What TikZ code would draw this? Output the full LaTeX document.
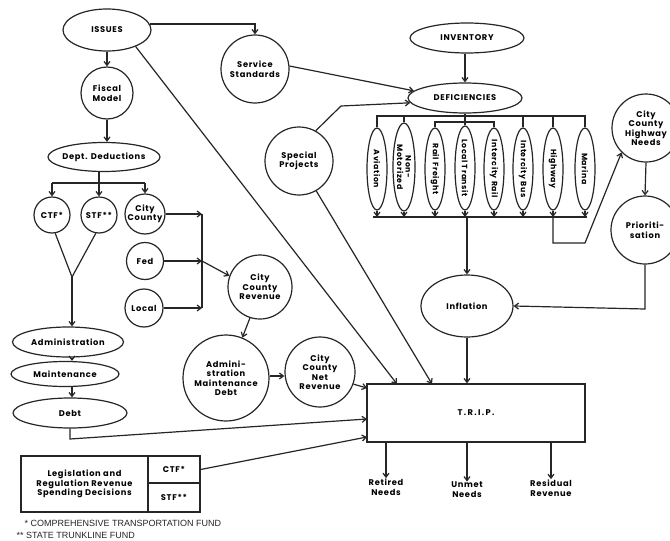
\documentclass[tikz,border=0pt]{standalone}
\usepackage{fontspec}
\setmainfont{Poppins}
\newfontfamily\lblfont[LetterSpace=8]{Poppins}
\newfontfamily\notefont{Liberation Sans}
\usetikzlibrary{shapes.geometric,arrows.meta}

\begin{document}
\begin{tikzpicture}[x=1pt,y=-1pt,
  line width=1.2pt,
  every label/.style={align=center, inner sep=0pt, text=black,
    font=\lblfont\bfseries\fontsize{8.3}{9.5}\selectfont},
  circ/.style={circle, draw=black!85, inner sep=0pt},
  ell/.style={ellipse, draw=black!85, inner sep=0pt},
  mode/.style={ellipse, draw=black!85, inner sep=0pt, minimum width=20, minimum height=82},
  vlbl/.style={rotate=-90, font=\lblfont\bfseries\fontsize{7.8}{8.5}\selectfont},
  cell/.style={rectangle, draw=black!85, inner sep=0pt},
  txt/.style={align=center, inner sep=0pt, text=black,
    font=\lblfont\bfseries\fontsize{8.3}{9.8}\selectfont},
  note/.style={anchor=west, inner sep=0pt, text=black!85,
    font=\notefont\fontsize{9}{10}\selectfont},
  arr/.style={draw=black!85, -{Straight Barb[length=4pt,width=6pt]}},
  ln/.style={draw=black!85},
]
\fill[white] (0,0) rectangle (670,541);
\useasboundingbox (0,0) rectangle (670,541);

% ---------- financial side ----------
\node[ell, minimum width=88, minimum height=42, label=center:ISSUES] (issues) at (107,30) {};
\node[circ, minimum size=52, label={center:Fiscal\\Model}] (fiscal) at (107,93) {};
\node[ell, minimum width=112, minimum height=29, label=center:{Dept. Deductions}] (dept) at (104,157) {};

\node[circ, minimum size=36, label=center:CTF*] (ctfc) at (52,215) {};
\node[circ, minimum size=36, label=center:STF**] (stfc) at (99,215) {};
\node[circ, minimum size=40, label={center:City\\County}] (ccounty) at (145,214) {};
\node[circ, minimum size=37, label=center:Fed] (fed) at (145,261) {};
\node[circ, minimum size=38, label=center:Local] (local) at (144,308) {};

\node[ell, minimum width=111, minimum height=30, label=center:Administration] (admin) at (68,342) {};
\node[ell, minimum width=108, minimum height=25, label=center:Maintenance] (maint) at (65,374) {};
\node[ell, minimum width=114, minimum height=30, label=center:Debt] (debt) at (70,413) {};

\node[circ, minimum size=64, label={center:City\\County\\Revenue}] (revenue) at (260,287) {};
\node[circ, minimum size=86, label={center:Admini-\\stration\\Maintenance\\Debt}] (amd) at (226,378) {};
\node[circ, minimum size=70, label={center:City\\County\\Net\\Revenue}] (netrev) at (320,372) {};

% legislation table
\node[cell, minimum width=127, minimum height=56, label={center:Legislation and\\Regulation Revenue\\Spending Decisions}] (legis) at (84.5,484) {};
\node[cell, minimum width=52, minimum height=27, label=center:CTF*] (ctfbox) at (174,469.5) {};
\node[cell, minimum width=52, minimum height=29, label=center:STF**] (stfbox) at (174,497.5) {};

\node[note] (fn1) at (24,523) {* COMPREHENSIVE TRANSPORTATION FUND};
\node[note] (fn2) at (16,535) {** STATE TRUNKLINE FUND};

% ---------- needs side ----------
\node[circ, minimum size=68, label={center:Service\\Standards}] (service) at (255,69) {};
\node[circ, minimum size=68, label={center:Special\\Projects}] (special) at (299,161) {};
\node[ell, minimum width=114, minimum height=30, label=center:INVENTORY] (inventory) at (467,38) {};
\node[ell, minimum width=114, minimum height=30, label=center:DEFICIENCIES] (defic) at (465,98) {};

\node[mode, label={[vlbl]center:Aviation}] (aviation) at (377,169) {};
\node[mode, minimum width=22, minimum height=88, label={[vlbl]center:Non-\\Motorized}] (nonmot) at (404,167) {};
\node[mode, label={[vlbl]center:Rail Freight}] (rail) at (435,169) {};
\node[mode, minimum height=84, label={[vlbl]center:Local Transit}] (ltransit) at (465,168) {};
\node[mode, label={[vlbl]center:Intercity Rail}] (irail) at (494,169) {};
\node[mode, label={[vlbl]center:Intercity Bus}] (ibus) at (523,169) {};
\node[mode, label={[vlbl]center:Highway}] (highway) at (553,169) {};
\node[mode, label={[vlbl]center:Marina}] (marina) at (585,169) {};

\node[circ, minimum size=68, label={center:City\\County\\Highway\\Needs}] (hneeds) at (646,128) {};
\node[circ, minimum size=68, label={center:Prioriti-\\sation}] (prior) at (645,230) {};
\node[ell, minimum width=92, minimum height=62, label=center:Inflation] (inflation) at (467,306) {};

\node[cell, minimum width=218, minimum height=58, label=center:{T\,.\,R\,.\,I\,.\,P\,.}] (trip) at (476,413) {};
\node[txt] (retired) at (386,487) {Retired\\Needs};
\node[txt] (unmet) at (467,490) {Unmet\\Needs};
\node[txt] (residual) at (551,488) {Residual\\Revenue};

% ---------- helper points ----------
\coordinate (bar) at (0,183);
\coordinate (merge) at (72,277);
\coordinate (vbar) at (202,0);
\coordinate (busT) at (0,116);
\coordinate (busS) at (0,122);
\coordinate (busB) at (0,217);
\coordinate (busL) at (373,217);
\coordinate (busR) at (587,217);
\coordinate (hwc) at (585,243);
\coordinate (prc) at (645,309);
\coordinate (spc) at (341,106);
\coordinate (dbc) at (70,439);
\coordinate (inA) at (397,384);
\coordinate (inB) at (432,384);
\coordinate (inC) at (367,388);
\coordinate (inD) at (367,419);
\coordinate (inE) at (367,437);

% ---------- connectors: financial side ----------
\draw[arr] (issues.south) -- (fiscal.north);
\draw[arr] (fiscal.south) -- (fiscal.south |- dept.north);
\draw[arr] (dept.south -| stfc.north) -- (stfc.north);
\draw[ln] (ctfc.north |- bar) -- (ccounty.north |- bar);
\draw[arr] (ctfc.north |- bar) -- (ctfc.north);
\draw[arr] (ccounty.north |- bar) -- (ccounty.north);

\draw[ln] (ctfc.-80) -- (merge) -- (stfc.-100);
\draw[arr] (merge) -- (merge |- admin.north);
\draw[arr] (admin.south -| merge) -- (maint.north -| merge);
\draw[arr] (maint.south -| merge) -- (debt.north -| merge);
\draw[arr] (debt.south) -- (dbc) -- (inD);

\draw[arr] (ccounty.east) -- (ccounty.east -| vbar);
\draw[arr] (fed.east) -- (fed.east -| vbar);
\draw[arr] (local.east) -- (local.east -| vbar);
\draw[ln] (ccounty.east -| vbar) -- (local.east -| vbar);
\draw[arr] (fed.east -| vbar) -- (revenue.160);
\draw[arr] (revenue.-108) -- (amd.68);
\draw[arr] (amd.east |- 0,376) -- (netrev.west |- 0,376);
\draw[arr] (netrev.-20) -- (inC);
\draw[arr] (ctfbox.east) -- (inE);

% ---------- connectors: needs side ----------
\draw[arr] (issues.8) -| (service.north);
\draw[arr] (issues.-30) -- (inA);
\draw[arr] (service.5) -- (defic.172);
\draw[arr] (special.61) -- (spc) -- (defic.185);
\draw[arr] (special.-60) -- (inB);
\draw[arr] (defic.north |- inventory.south) -- (defic.north);

\draw[ln] (aviation.north) -- (aviation.north |- busT) -- (marina.north |- busT) -- (marina.north);
\draw[ln] (nonmot.north |- busT) -- (nonmot.north);
\draw[ln] (ibus.north |- busT) -- (ibus.north);
\draw[ln] (highway.north |- busT) -- (highway.north);
\draw[ln] (defic.south) -- (ltransit.north);
\draw[ln] (rail.north) -- (rail.north |- busS) -- (irail.north |- busS) -- (irail.north);

\draw[ln] (busL) -- (busR);
\foreach \m in {aviation,nonmot,rail,ltransit,irail,ibus,highway,marina}
  \draw[arr] (\m.south) -- (\m.south |- busB);
\draw[arr] (inflation.north |- busB) -- (inflation.north);
\draw[arr] (highway.south |- busB) |- (hwc) -- (hneeds.225);
\draw[arr] (hneeds.south) -- (prior.north);
\draw[arr] (prior.south) -- (prc) -- (inflation.east);
\draw[arr] (inflation.south) -- (inflation.south |- trip.north);

\draw[arr] (retired.north |- trip.south) -- (retired.north);
\draw[arr] (unmet.north |- trip.south) -- (unmet.north);
\draw[arr] (residual.north |- trip.south) -- (residual.north);
\end{tikzpicture}
\end{document}
